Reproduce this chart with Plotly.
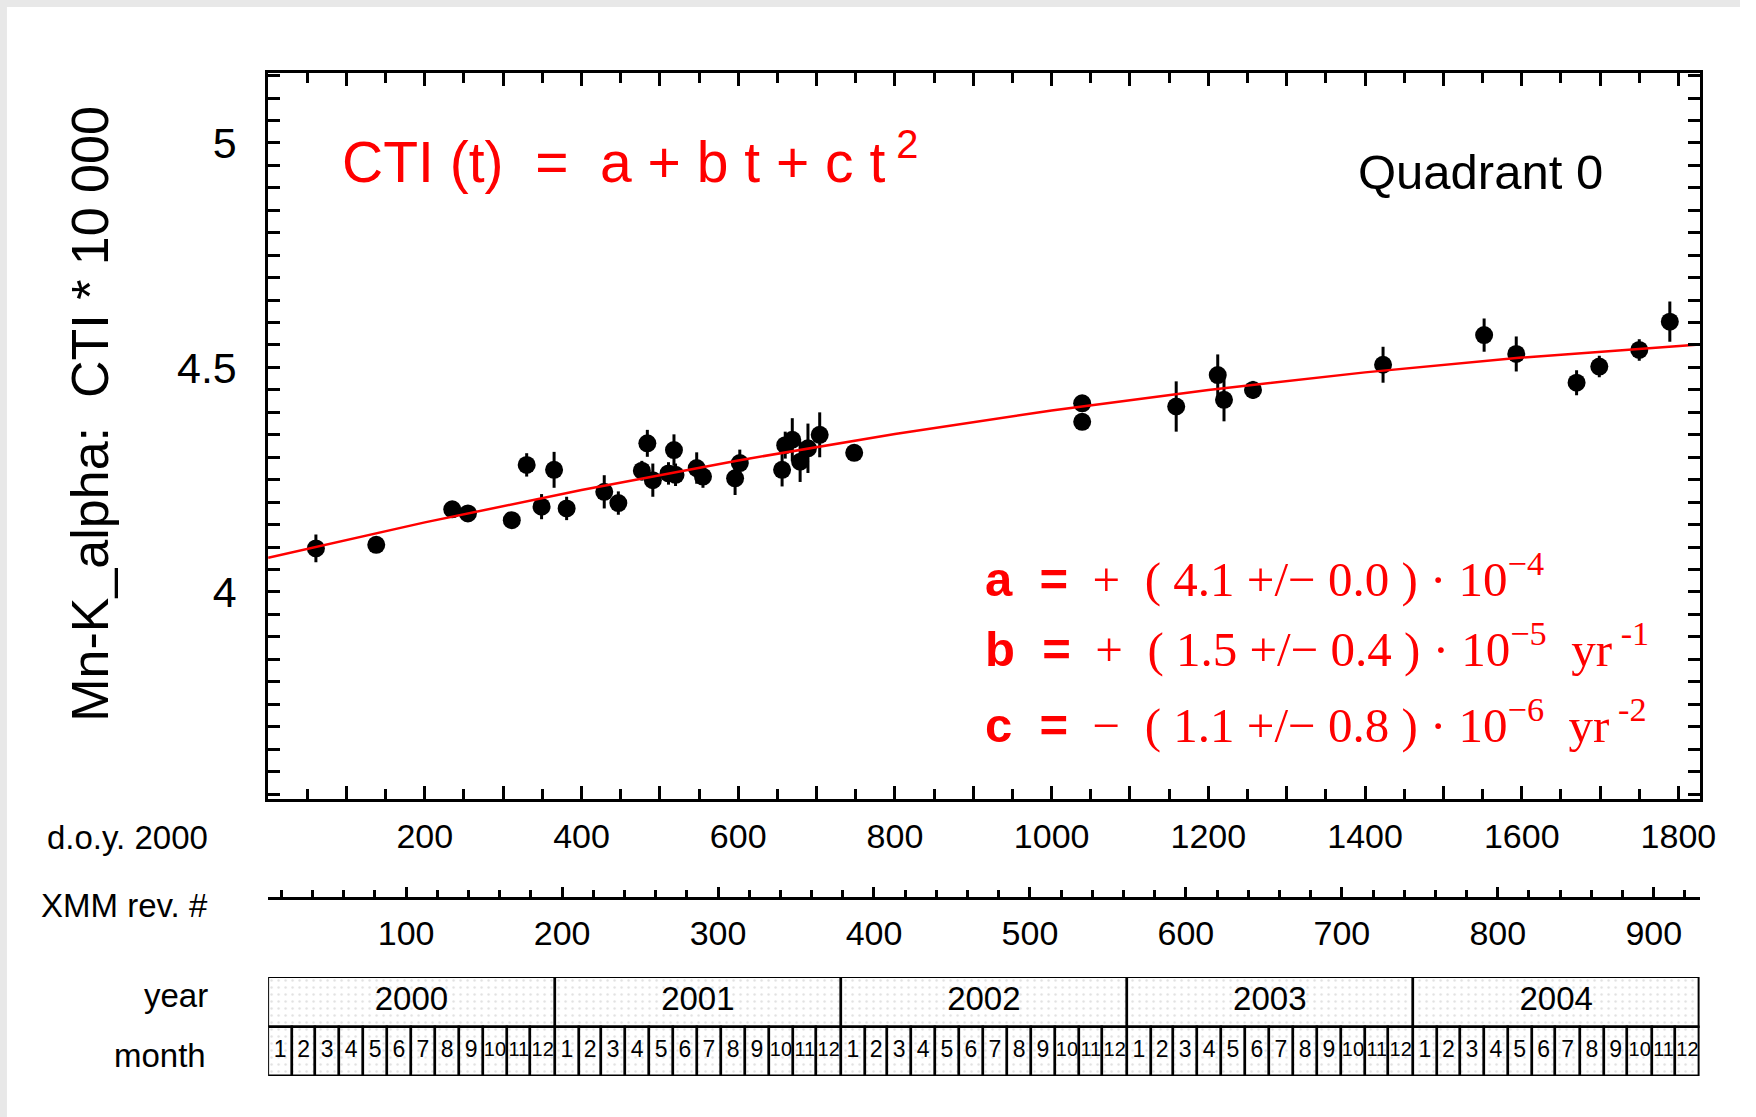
import plotly.graph_objects as go

W, H = 1756, 1117

# measured CTI values (x 10 000) versus day of year 2000
doy = [61, 138, 235, 255, 311, 330, 349, 365, 381, 429, 447, 484, 477, 491, 518,
       511, 520, 547, 555, 596, 602, 656, 660, 669, 679, 689, 704, 748,
       1039, 1039, 1159, 1212, 1220, 1257, 1423, 1552, 1593, 1670, 1699, 1750, 1789]
cti = [4.097, 4.105, 4.184, 4.175, 4.160, 4.283, 4.190, 4.272, 4.186, 4.223, 4.198, 4.331, 4.270, 4.249, 4.316,
       4.264, 4.261, 4.276, 4.257, 4.253, 4.287, 4.272, 4.327, 4.339, 4.290, 4.320, 4.350, 4.310,
       4.420, 4.379, 4.413, 4.483, 4.428, 4.450, 4.506, 4.572, 4.530, 4.466, 4.502, 4.539, 4.602]
cti_err = [0.031, 0.015, 0.012, 0.012, 0.012, 0.026, 0.028, 0.040, 0.026, 0.037, 0.026, 0.030, 0.022, 0.037, 0.035,
           0.025, 0.025, 0.035, 0.025, 0.037, 0.030, 0.037, 0.030, 0.048, 0.045, 0.055, 0.050, 0.015,
           0.015, 0.015, 0.056, 0.046, 0.048, 0.020, 0.040, 0.037, 0.039, 0.028, 0.024, 0.024, 0.045]

# fitted curve
fit_doy = [0, 200, 400, 600, 800, 1000, 1200, 1400, 1600, 1800, 1827]
fit_cti = [4.076, 4.155, 4.227, 4.293, 4.352, 4.404, 4.450, 4.489, 4.522, 4.548, 4.551]

# axis ticks
doy_ticks = [100, 200, 300, 400, 500, 600, 700, 800, 900, 1000, 1100, 1200, 1300, 1400, 1500, 1600, 1700, 1800]
doy_text = ['', '200', '', '400', '', '600', '', '800', '', '1000', '', '1200', '', '1400', '', '1600', '', '1800']
doy_minor = [50, 150, 250, 350, 450, 550, 650, 750, 850, 950, 1050, 1150, 1250, 1350, 1450, 1550, 1650, 1750]
rev_ticks = [100, 200, 300, 400, 500, 600, 700, 800, 900]
cti_ticks = [4, 4.5, 5]
cti_text = ['4', '4.5', '5']

# calendar table
years = ['2000', '2001', '2002', '2003', '2004']
month_days = {
    '2000': [31, 29, 31, 30, 31, 30, 31, 31, 30, 31, 30, 31],
    '2001': [31, 28, 31, 30, 31, 30, 31, 31, 30, 31, 30, 31],
    '2002': [31, 28, 31, 30, 31, 30, 31, 31, 30, 31, 30, 31],
    '2003': [31, 28, 31, 30, 31, 30, 31, 31, 30, 31, 30, 31],
    '2004': [31, 29, 31, 30, 31, 30, 31, 31, 30, 31, 30, 31],
}

# pixel positions -> paper fractions
SX = 1.007
def px(p):
    return p * SX / W
def py(p):
    return 1 - p / H

xdom = [px(268.7), px(1703.3)]

year_x, year_w, mon_x, mon_w, mon_lab = [], [], [], [], []
start = 0
for y in years:
    ylen = sum(month_days[y])
    year_x.append(start + ylen / 2)
    year_w.append(ylen)
    s = start
    for i, d in enumerate(month_days[y]):
        mon_x.append(s + d / 2)
        mon_w.append(d)
        mon_lab.append(str(i + 1))
        s += d
    start += ylen
# two-digit months need a smaller font to fit in their cells
mon_size = [23 if len(m) == 1 else 20 for m in mon_lab]

SANS = 'Liberation Sans, Arial, sans-serif'
SERIF = 'Liberation Serif, Times New Roman, serif'

fig = go.Figure()

fig.add_trace(go.Scatter(
    x=doy, y=cti, mode='markers',
    marker=dict(color='black', size=18),
    error_y=dict(type='data', array=cti_err, color='black', thickness=3, width=0),
    showlegend=False, hoverinfo='skip'))

fig.add_trace(go.Scatter(
    x=fit_doy, y=fit_cti, mode='lines',
    line=dict(color='#ff0000', width=2.5),
    showlegend=False, hoverinfo='skip'))

# invisible anchor so the XMM revolution axis gets its own strip
fig.add_trace(go.Scatter(
    x=rev_ticks, y=[0] * len(rev_ticks), mode='markers', marker=dict(opacity=0),
    xaxis='x4', yaxis='y4', showlegend=False, hoverinfo='skip'))

pattern = dict(shape='.', fgcolor='#c4c4c4', bgcolor='white', size=7, solidity=0.1)
fig.add_trace(go.Bar(
    x=year_x, y=[1] * len(year_x), base=1, width=year_w,
    marker=dict(color='white', line=dict(color='black', width=2.5), pattern=pattern),
    xaxis='x3', yaxis='y3', showlegend=False, hoverinfo='skip'))
fig.add_trace(go.Bar(
    x=mon_x, y=[1] * len(mon_x), base=0, width=mon_w,
    marker=dict(color='white', line=dict(color='black', width=2.5), pattern=pattern),
    xaxis='x3', yaxis='y3', showlegend=False, hoverinfo='skip'))
fig.add_trace(go.Scatter(
    x=year_x, y=[1.5] * len(year_x), mode='text', text=years,
    textfont=dict(family=SANS, size=33, color='black'),
    xaxis='x3', yaxis='y3', showlegend=False, hoverinfo='skip'))
fig.add_trace(go.Scatter(
    x=mon_x, y=[0.5] * len(mon_x), mode='text', text=mon_lab,
    textfont=dict(family=SANS, size=mon_size, color='black'),
    xaxis='x3', yaxis='y3', showlegend=False, hoverinfo='skip'))

axis_common = dict(showline=True, linecolor='black', linewidth=2.5, showgrid=False,
                   zeroline=False, ticks='inside', tickcolor='black', tickwidth=2.5)

fig.update_layout(
    width=W, height=H,
    margin=dict(l=0, r=0, t=0, b=0),
    paper_bgcolor='white', plot_bgcolor='white',
    barmode='overlay', bargap=0,
    font=dict(family=SANS, color='black'),
    xaxis=dict(**axis_common, domain=xdom, anchor='y', range=[0, 1827],
               tickmode='array', tickvals=doy_ticks, ticktext=doy_text, ticklen=13,
               minor=dict(tickmode='array', tickvals=doy_minor, ticks='inside', ticklen=10,
                          tickcolor='black', tickwidth=2.5),
               mirror='allticks', tickfont=dict(size=34), ticklabelstandoff=5),
    yaxis=dict(**axis_common, domain=[py(799), py(73.3)], anchor='x', range=[3.539, 5.155],
               tickmode='array', tickvals=cti_ticks, ticktext=cti_text, ticklen=12,
               minor=dict(tickmode='linear', tick0=4, dtick=0.05, ticks='inside', ticklen=12,
                          tickcolor='black', tickwidth=2.5),
               mirror='allticks', tickfont=dict(size=43), ticklabelstandoff=20),
    xaxis4=dict(**axis_common, domain=xdom, anchor='y4', range=[11.5, 929.4],
                tickmode='array', tickvals=rev_ticks, ticklen=10,
                minor=dict(tickmode='linear', tick0=0, dtick=20, ticks='inside', ticklen=7,
                           tickcolor='black', tickwidth=2.5),
                tickfont=dict(size=34), ticklabelstandoff=4),
    yaxis4=dict(domain=[py(897), py(889)], anchor='x4', range=[0, 1], visible=False),
    xaxis3=dict(domain=xdom, anchor='y3', range=[0, 1827], visible=False),
    yaxis3=dict(domain=[py(1076), py(977)], anchor='x3', range=[0, 2], visible=False),
)

# light grey strips at the top and left edge of the picture
fig.add_shape(type='rect', xref='paper', yref='paper', x0=0, x1=1, y0=py(7), y1=1,
              fillcolor='#e8e8e8', line_width=0, layer='below')
fig.add_shape(type='rect', xref='paper', yref='paper', x0=0, x1=7 / W, y0=0, y1=1,
              fillcolor='#e8e8e8', line_width=0, layer='below')

notes = [
    dict(text='Mn-K_alpha:  CTI * 10 000', x=px(90), y=py(414), textangle=-90,
         xanchor='center', yanchor='middle', font=dict(size=52)),
    dict(text='d.o.y. 2000', x=px(210), y=py(837), xanchor='right', yanchor='middle', font=dict(size=33)),
    dict(text='XMM rev. #', x=px(210), y=py(905), xanchor='right', yanchor='middle', font=dict(size=33)),
    dict(text='year', x=px(210), y=py(995), xanchor='right', yanchor='middle', font=dict(size=33)),
    dict(text='month', x=px(208), y=py(1055), xanchor='right', yanchor='middle', font=dict(size=33)),
    dict(text='CTI (t)  =  a + b t + c t<sup> 2</sup>', x=px(341), y=py(158),
         xanchor='left', yanchor='middle', font=dict(size=57, color='#ff0000')),
    dict(text='Quadrant 0', x=px(1608), y=py(172), xanchor='right', yanchor='middle', font=dict(size=49)),
]
param_lines = [
    ('a', '+', '4.1', '0.0', '\u22124', ''),
    ('b', '+', '1.5', '0.4', '\u22125', '  yr<sup> -1</sup>'),
    ('c', '\u2212', '1.1', '0.8', '\u22126', '  yr<sup> -2</sup>'),
]
param_y = [575, 645, 721]
for (name, sign, val, err, expo, unit), yy in zip(param_lines, param_y):
    txt = ('<span style="font-family:Liberation Sans;font-weight:bold">%s  =</span>'
           '  %s  ( %s +/\u2212 %s ) \u00b7 10<sup>%s</sup>%s') % (name, sign, val, err, expo, unit)
    notes.append(dict(text=txt, x=px(985), y=py(yy), xanchor='left', yanchor='middle',
                      font=dict(family=SERIF, size=49, color='#ff0000')))
for n in notes:
    n.update(xref='paper', yref='paper', showarrow=False)
    if 'family' not in n['font']:
        n['font']['family'] = SANS
    fig.add_annotation(**n)

fig.write_html("out.html", config={'displayModeBar': False},
               post_script="document.body.style.margin='0';document.body.style.overflow='hidden';")
